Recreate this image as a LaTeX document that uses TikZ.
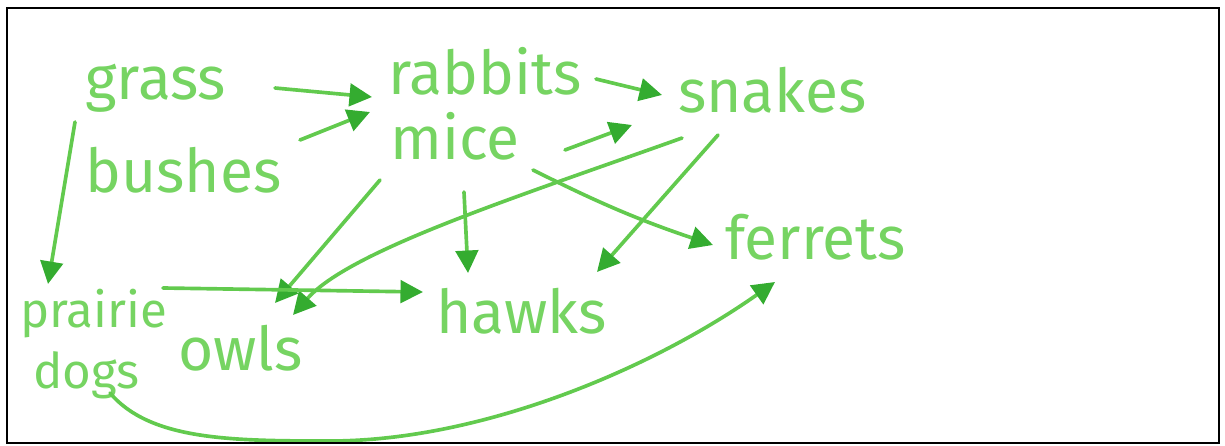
\documentclass[tikz,border=0pt]{standalone}
\usepackage{fontspec}
\setmainfont{Fira Sans}
\usetikzlibrary{arrows.meta}

\definecolor{penlight}{RGB}{118,212,98}
\definecolor{penline}{RGB}{98,202,78}
\definecolor{pendark}{RGB}{52,172,48}

\begin{document}
\begin{tikzpicture}[x=0.025cm, y=-0.025cm,
  animal/.style={anchor=base west, inner sep=0pt, text=penlight,
    font=\fontsize{43}{45}\selectfont},
  narrow/.style={animal, font=\fontsize{35}{37}\selectfont},
  feeds/.style={penline, line width=2.6pt, line cap=round,
    -{Triangle[length=16pt, width=16pt, color=pendark]}}]
\useasboundingbox (0,0) rectangle (1225,446);

\node[animal] (grass)   at (85,100)  {grass};
\node[animal] (rabbits) at (388,95)  {rabbits};
\node[animal] (snakes)  at (678,113) {snakes};
\node[animal] (bushes)  at (85,193)  {bushes};
\node[animal] (mice)    at (390,160) {mice};
\node[animal] (ferrets) at (725,260) {ferrets};
\node[narrow] (prairie) at (20,327)  {prairie};
\node[narrow] (dogs)    at (33,388)  {dogs};
\node[animal] (owls)    at (178,370) {owls};
\node[animal] (hawks)   at (436,333) {hawks};

\coordinate (dip) at (330,441);

\draw[feeds] ([shift={(190,-12)}]grass.base west) -- ([shift={(-16,2)}]rabbits.base west);
\draw[feeds] ([shift={(215,-53)}]bushes.base west) -- ([shift={(-20,-48)}]mice.base west);
\draw[feeds] ([shift={(208,-16)}]rabbits.base west) -- ([shift={(-16,-18)}]snakes.base west);
\draw[feeds] ([shift={(175,-10)}]mice.base west) -- ([shift={(-46,12)}]snakes.base west);
\draw[feeds] ([shift={(-10,22)}]grass.base west) -- ([shift={(28,-43)}]prairie.base west);
\draw[feeds] ([shift={(-10,20)}]mice.base west) -- ([shift={(97,-67)}]owls.base west);
\draw[feeds] ([shift={(4,25)}]snakes.base west)
  .. controls +(-162,58) and +(57,-65) .. ([shift={(115,-55)}]owls.base west);
\draw[feeds] ([shift={(74,32)}]mice.base west) -- ([shift={(32,-60)}]hawks.base west);
\draw[feeds] ([shift={(40,22)}]snakes.base west) -- ([shift={(161,-61)}]hawks.base west);
\draw[feeds] ([shift={(143,10)}]mice.base west) to[bend right=4] ([shift={(-12,-15)}]ferrets.base west);
\draw[feeds] ([shift={(143,-39)}]prairie.base west) -- ([shift={(-13,-41)}]hawks.base west);
\draw[feeds] ([shift={(77,5)}]dogs.base west)
  .. controls +(40,47) and +(-100,0) .. (dip)
  .. controls +(150,0) and +(-125,88) .. ([shift={(50,22)}]ferrets.base west);

% frame
\draw[black, line width=1.4pt] (7,8) rectangle (1219,443);
\end{tikzpicture}
\end{document}
